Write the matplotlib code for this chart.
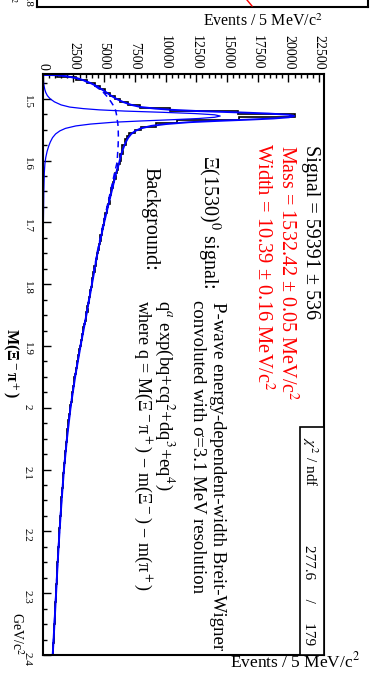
import numpy as np
import matplotlib

matplotlib.use("Agg")
import matplotlib.pyplot as plt
from matplotlib.lines import Line2D
from matplotlib.patches import Rectangle
from matplotlib.ticker import FixedLocator, FixedFormatter, MultipleLocator

plt.rcParams["font.family"] = ["Liberation Serif", "DejaVu Serif"]
plt.rcParams["mathtext.fontset"] = "stix"

# ---- data ----
mass_low, mass_high, n_bins = 1.46, 2.40, 188

counts = [
    1200, 2750, 3600, 4250, 4700, 5100, 5450, 5850, 6300, 6950,      # 1.46-1.51
    7900, 10400, 15900, 20570, 16000, 10900, 9200, 8000, 7500, 7000,  # 1.51-1.56
    6900, 6700, 6750, 6450, 6430, 6500, 6300, 6350, 6300, 6150,      # 1.56-1.61
    6150, 6050, 5900, 5950, 5800, 5700, 5750, 5600, 5550, 5500,      # 1.61-1.66
    5400, 5450, 5300, 5250, 5250, 5100, 5100, 5000, 5000, 4900,      # 1.66-1.71
    4850, 4850, 4700, 4720, 4650, 4550, 4550, 4500, 4400, 4400,      # 1.71-1.76
    4300, 4300, 4200, 4250, 4100, 4100, 4050, 4000, 4000, 3900,      # 1.76-1.81
    3850, 3850, 3750, 3750, 3700, 3600, 3650, 3550, 3500, 3500,      # 1.81-1.86
    3450, 3350, 3300, 3300, 3200, 3200, 3100, 3100, 3050, 2950,      # 1.86-1.91
    2950, 2900, 2850, 2800, 2800, 2700, 2700, 2650, 2580, 2550,      # 1.91-1.96
    2550, 2450, 2450, 2400, 2350, 2350, 2300, 2250, 2250, 2200,      # 1.96-2.01
    2150, 2150, 2100, 2100, 2050, 2000, 2000, 1950, 1950, 1900,      # 2.01-2.06
    1900, 1900, 1850, 1800, 1800, 1780, 1750, 1700, 1720, 1680,      # 2.06-2.11
    1650, 1650, 1620, 1620, 1580, 1560, 1560, 1520, 1520, 1490,      # 2.11-2.16
    1480, 1460, 1460, 1420, 1420, 1390, 1390, 1360, 1360, 1330,      # 2.16-2.21
    1330, 1300, 1300, 1270, 1270, 1250, 1230, 1220, 1200, 1190,      # 2.21-2.26
    1170, 1170, 1150, 1130, 1130, 1110, 1100, 1080, 1080, 1060,      # 2.26-2.31
    1050, 1040, 1030, 1010, 1000, 990, 970, 970, 950, 940,           # 2.31-2.36
    920, 910, 890, 880, 860, 850, 840, 820,                          # 2.36-2.40
]

curve_mass = [
    1.4613, 1.462, 1.464, 1.467, 1.470, 1.475, 1.480, 1.485, 1.490, 1.495,
    1.500, 1.505, 1.510, 1.5135, 1.516, 1.518, 1.520, 1.522, 1.524, 1.526,
    1.528, 1.530, 1.532, 1.534, 1.536, 1.538, 1.541, 1.544, 1.548, 1.552,
    1.557, 1.563, 1.570, 1.576, 1.585, 1.595, 1.605, 1.620, 1.650, 1.700,
    1.750, 1.800, 1.850, 1.900, 1.950, 2.000, 2.050, 2.100, 2.150, 2.200,
    2.250, 2.300, 2.350, 2.400,
]
curve_total = [
    0, 1205, 2015, 2830, 3300, 3930, 4420, 4820, 5200, 5560,
    5980, 6510, 7220, 8000, 9180, 10520, 12650, 15770, 18390, 20010,
    20480, 20050, 18760, 16570, 14080, 11900, 10020, 8830, 7990, 7550,
    7205, 6960, 6770, 6640, 6470, 6330, 6210, 5980, 5610, 5005,
    4460, 4010, 3555, 3080, 2640, 2265, 1975, 1730, 1540, 1370,
    1220, 1090, 955, 815,
]
curve_bkg = [
    0, 1200, 2000, 2800, 3250, 3850, 4300, 4650, 4950, 5180,
    5380, 5560, 5720, 5800, 5880, 5920, 5950, 5970, 5990, 6010,
    6030, 6050, 6060, 6070, 6080, 6100, 6120, 6130, 6140, 6150,
    6155, 6160, 6150, 6140, 6110, 6080, 6030, 5850, 5520, 4950,
    4420, 3980, 3530, 3060, 2620, 2250, 1960, 1720, 1530, 1360,
    1210, 1080, 950, 810,
]
curve_signal = [
    0, 5, 15, 30, 50, 80, 120, 170, 250, 380,
    600, 950, 1500, 2200, 3300, 4600, 6700, 9800, 12400, 14000,
    14450, 14000, 12700, 10500, 8000, 5800, 3900, 2700, 1850, 1400,
    1050, 800, 620, 500, 360, 250, 180, 130, 90, 55,
    40, 30, 25, 20, 18, 15, 13, 12, 11, 10,
    8, 7, 6, 5,
]

event_ticks = [0, 2500, 5000, 7500, 10000, 12500, 15000, 17500, 20000, 22500]
event_labels = ["0", "2500", "5000", "7500", "10000", "12500", "15000", "17500", "20000", "22500"]
mass_ticks = [1.5, 1.6, 1.7, 1.8, 1.9, 2.0, 2.1, 2.2, 2.3, 2.4]
mass_labels = ["1.5", "1.6", "1.7", "1.8", "1.9", "2", "2.1", "2.2", "2.3", "2.4"]
events_max = 22900

W, H = 374, 675


def rtext(fig, x_px, y_px, s, **kw):
    # text rotated like the rest of the page (reads top to bottom)
    kw.setdefault("rotation_mode", "anchor")
    return fig.text(x_px / W, 1 - y_px / H, s, rotation=-90, **kw)


def main():
    fig = plt.figure(figsize=(W / 100, H / 100), dpi=100)
    ax = fig.add_axes([42.7 / W, 20 / H, (324 - 42.7) / W, (655 - 74) / H])

    edges = np.linspace(mass_low, mass_high, n_bins + 1)
    ax.stairs(counts, edges, orientation="horizontal", color="black", lw=1.2, baseline=0)
    ax.plot(curve_total, curve_mass, color="blue", lw=1.4)
    ax.plot(curve_bkg, curve_mass, color="blue", lw=1.1, ls=(0, (4, 3)))
    ax.plot(curve_signal, curve_mass, color="blue", lw=0.9)

    ax.set_xlim(0, events_max)
    ax.set_ylim(mass_high, mass_low)

    ax.xaxis.set_major_locator(FixedLocator(event_ticks))
    ax.xaxis.set_major_formatter(FixedFormatter(event_labels))
    ax.xaxis.set_minor_locator(MultipleLocator(500))
    ax.yaxis.set_major_locator(FixedLocator(mass_ticks))
    ax.yaxis.set_major_formatter(FixedFormatter(mass_labels))
    ax.yaxis.set_minor_locator(MultipleLocator(0.025))

    ax.tick_params(axis="x", which="both", direction="in", top=True, bottom=False,
                   labeltop=True, labelbottom=False, labelrotation=-90, labelsize=10, pad=3)
    ax.tick_params(axis="y", which="both", direction="in", left=True, right=False,
                   labelrotation=-90, labelsize=8, pad=8)
    ax.tick_params(which="major", length=6, width=1)
    ax.tick_params(which="minor", length=3, width=1)
    for sp in ax.spines.values():
        sp.set_linewidth(1.5)

    # stats box (chi2 / ndf)
    ax.add_patch(Rectangle(((300 - 42.7) / (324 - 42.7), 0),
                           (324 - 300) / (324 - 42.7), (655 - 427) / (655 - 74),
                           transform=ax.transAxes, facecolor="white", edgecolor="black",
                           lw=1.2, zorder=5))
    rtext(fig, 305, 437, r"$\chi^2$ / ndf", ha="left", va="baseline", fontsize=11, zorder=6)
    rtext(fig, 305, 645, "277.6     /     179", ha="right", va="baseline", fontsize=11, zorder=6)

    # fit results
    rtext(fig, 306, 145, "Signal = 59391 ± 536", ha="left", va="baseline", fontsize=14.5)
    rtext(fig, 281, 145, r"Mass = 1532.42 ± 0.05 MeV/c$^2$", ha="left", va="baseline",
          fontsize=14.5, color="red")
    rtext(fig, 257, 143, r"Width = 10.39 ± 0.16 MeV/c$^2$", ha="left", va="baseline",
          fontsize=14.8, color="red")

    rtext(fig, 203, 155, r"Ξ(1530)$^0$ signal:", ha="left", va="baseline", fontsize=14.5)
    rtext(fig, 213, 302, "P-wave energy-dependent-width Breit-Wigner", ha="left",
          va="baseline", fontsize=13.5)
    rtext(fig, 193, 300, "convoluted with σ=3.1 MeV resolution", ha="left",
          va="baseline", fontsize=13.5)

    rtext(fig, 145, 167, "Background:", ha="left", va="baseline", fontsize=14.5)
    rtext(fig, 159, 300, r"q$^a$ exp(bq+cq$^2$+dq$^3$+eq$^4$)", ha="left",
          va="baseline", fontsize=13.5)
    rtext(fig, 138, 300, r"where q = M(Ξ$^-$π$^+$) − m(Ξ$^-$) − m(π$^+$)", ha="left",
          va="baseline", fontsize=13)

    # axis titles
    fig.text(323 / W, 1 - 22 / H, r"Events / 5 MeV/c$^2$", ha="right", va="center", fontsize=11.5)
    fig.text(360 / W, 1 - 661 / H, r"Events / 5 MeV/c$^2$", ha="right", va="center", fontsize=12.5)
    rtext(fig, 12, 655, r"GeV/c$^2$", ha="right", va="baseline", fontsize=10)
    rtext(fig, 7, 363, r"M(Ξ$^-$π$^+$)", ha="center", va="baseline", fontsize=11.5,
          fontweight="bold")

    # piece of the neighbouring panel above
    fig.add_artist(Line2D([37 / W, 368 / W], [1 - 7 / H] * 2, color="black", lw=1.5))
    fig.add_artist(Line2D([37 / W] * 2, [1 - 7 / H, 1], color="black", lw=1.5))
    fig.add_artist(Line2D([368 / W] * 2, [1 - 7 / H, 1], color="black", lw=1.5))
    fig.add_artist(Line2D([247 / W, 252 / W], [1, 1 - 6 / H], color="red", lw=1.0))
    rtext(fig, 25, 8, "1.8", ha="right", va="baseline", fontsize=8)
    rtext(fig, 6, 3, r"c$^2$", ha="right", va="baseline", fontsize=8)

    fig.savefig("out.png", dpi=100)
    plt.close(fig)


if __name__ == "__main__":
    main()
